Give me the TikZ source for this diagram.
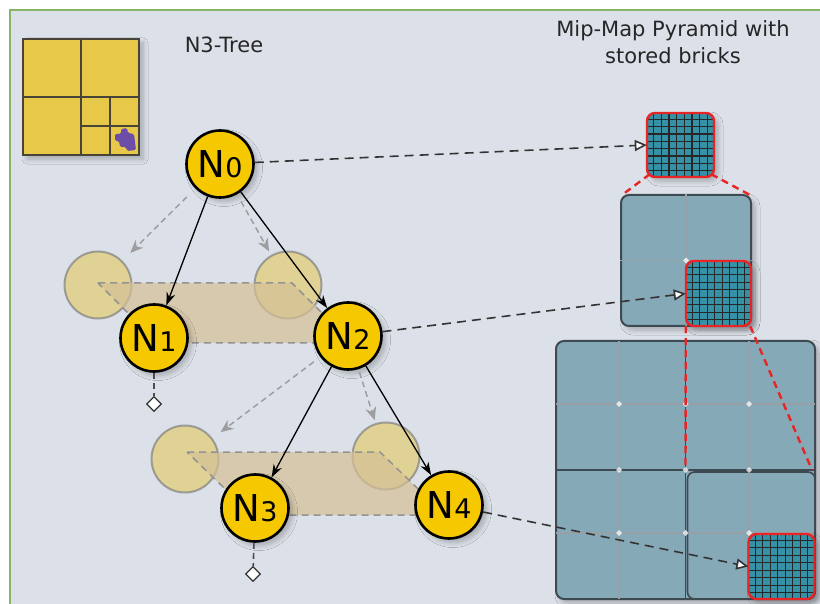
\documentclass[tikz,border=0pt]{standalone}
\usepackage{fontspec}
\setmainfont{DejaVu Sans}
\usetikzlibrary{arrows.meta,shapes.geometric,shadows.blur,calc}
\definecolor{bgc}{RGB}{220,225,233}
\definecolor{frameg}{RGB}{135,180,105}
\definecolor{qyel}{RGB}{232,200,72}
\definecolor{qdark}{RGB}{72,68,56}
\definecolor{qpur}{RGB}{108,78,168}
\definecolor{nyel}{RGB}{246,200,0}
\definecolor{ghostc}{RGB}{226,206,120}
\definecolor{bandc}{RGB}{214,192,150}
\definecolor{cellc}{RGB}{134,169,183}
\definecolor{celldark}{RGB}{62,74,82}
\definecolor{celllinec}{RGB}{150,160,166}
\definecolor{brickc}{RGB}{52,145,166}
\definecolor{brickred}{RGB}{232,36,36}
\definecolor{titlec}{RGB}{38,38,38}
\newcommand\nlabel[1]{{\fontsize{37}{37}\selectfont N}{\fontsize{27}{27}\selectfont #1}}
\newcommand\brickgrid[4]{%
  \begin{scope}
    \clip[rounded corners=8pt] ({#1-#3},{#2-#4}) rectangle ({#1+#3},{#2+#4});
    \foreach \k in {0,...,7}{%
      \draw[gridl] ({#1-#3+2*#3*(0.1+\k*0.11429)},{#2-#4}) -- ++(0,{2*#4});
      \draw[gridl] ({#1-#3},{#2-#4+2*#4*(0.1+\k*0.11429)}) -- ++({2*#3},0);
    }
  \end{scope}}
\newcommand\jmark[2]{\fill[white,opacity=0.75] ({#1-3},#2) -- (#1,{#2-3}) -- ({#1+3},#2) -- (#1,{#2+3}) -- cycle;}
\begin{document}
\begin{tikzpicture}[x=1pt,y=-1pt,
  softshadow/.style={blur shadow={shadow blur steps=8, shadow xshift=4pt, shadow yshift=-4pt, shadow opacity=25, shadow blur radius=5pt}},
  qbox/.style={rectangle, minimum size=116pt, inner sep=0pt, fill=qyel, draw=qdark, line width=2.5pt, softshadow},
  qline/.style={draw=qdark, line width=2pt},
  titlestyle/.style={font=\fontsize{21}{25}\selectfont, text=titlec, anchor=base, inner sep=0pt},
  tnode/.style={circle, draw=black, line width=2.6pt, fill=nyel, minimum size=67pt, inner sep=0pt, softshadow},
  ghost/.style={circle, draw=gray, draw opacity=0.7, line width=2pt, fill=ghostc, fill opacity=0.75, minimum size=67pt, inner sep=0pt},
  band/.style={fill=bandc, fill opacity=0.7, draw=gray!85, line width=1.5pt, dash pattern=on 7pt off 5pt},
  leaf/.style={diamond, draw=black!80, fill=white, line width=1.2pt, minimum size=15pt, inner sep=0pt},
  stem/.style={draw=black!70, line width=1.6pt, dash pattern=on 6pt off 4pt},
  tarrow/.style={draw=black, line width=1.3pt, -{Stealth[length=13pt,width=9pt]}},
  garrow/.style={draw=black!38, line width=1.5pt, dash pattern=on 6pt off 4pt, -{Stealth[length=13pt,width=11pt]}},
  darrow/.style={draw=black!80, line width=1.6pt, dash pattern=on 9pt off 6pt, -{Triangle[length=12pt,width=11pt,fill=white]}},
  reddash/.style={draw=brickred, line width=2.4pt, dash pattern=on 7pt off 5pt},
  cellblock/.style={rectangle, rounded corners=8pt, fill=cellc, draw=celldark, line width=2pt, inner sep=0pt, softshadow},
  cellline/.style={draw=celllinec, line width=1.3pt},
  brick/.style={rectangle, rounded corners=8pt, fill=brickc, inner sep=0pt, softshadow},
  brickedge/.style={rectangle, rounded corners=8pt, draw=brickred, line width=2.4pt, inner sep=0pt},
  gridl/.style={draw=black!85, line width=1.1pt}
]
\useasboundingbox (0,0) rectangle (820,604);
\fill[white] (0,0) rectangle (820,604);
\fill[bgc] (10,10) rectangle (821,605);
\draw[frameg, line width=2pt] (10,605) -- (10,10) -- (821,10);

% quadtree icon
\node[qbox] (qt) at (81,97) {};
\draw[qline] (qt.north) -- (qt.south) (qt.west) -- (qt.east);
\draw[qline] (110,97) -- (110,155) (81,126) -- (139,126);
\fill[qpur, rounded corners=1.5pt] (115,134) -- (121,134) -- (121,129) -- (127,128) -- (128,133) -- (134,134) -- (136,150) -- (127,151) -- (126,147) -- (120,147) -- (119,141) -- (115,141) -- cycle;

% titles
\node[titlestyle] (t0) at (224,53) {N3-Tree};
\node[titlestyle] (t1) at (673,37) {Mip-Map Pyramid with};
\node[titlestyle] (t2) at (673,64) {stored bricks};

% ghosts and bands
\node[ghost] (g1) at (98,285) {};
\node[ghost] (g2) at (288,285) {};
\draw[band] (98,283) -- (292,283) -- (352,343) -- (158,343) -- cycle;
\node[ghost] (g3) at (185,459) {};
\node[ghost] (g4) at (386,456) {};
\draw[band] (187,452) -- (380,452) -- (445,515) -- (252,515) -- cycle;

% tree nodes
\node[tnode] (n0) at (220,164) {\nlabel{0}};
\node[tnode] (n1) at (154,338) {\nlabel{1}};
\node[tnode] (n2) at (348,336) {\nlabel{2}};
\node[tnode] (n3) at (255,508) {\nlabel{3}};
\node[tnode] (n4) at (449,505) {\nlabel{4}};

% leaves
\node[leaf] (d1) at (154,404) {};
\node[leaf] (d3) at (253,574) {};
\draw[stem] (n1) -- (d1);
\draw[stem] (n3) -- (d3);

% tree arrows
\draw[garrow, shorten <=12pt, shorten >=11pt] (n0) -- (g1);
\draw[garrow, shorten <=8pt, shorten >=4pt] (n0) -- (g2);
\draw[tarrow] (n0) -- (n1);
\draw[tarrow] (n0) -- (n2);
\draw[garrow, shorten <=8pt, shorten >=10pt] (n2) -- (g3);
\draw[garrow, shorten <=3pt, shorten >=3pt] (n2) -- (g4);
\draw[tarrow] (n2) -- (n3);
\draw[tarrow] (n2) -- (n4);

% level 0
\node[brick, minimum width=67pt, minimum height=64pt] (b0) at (680.5,145) {};
\brickgrid{680.5}{145}{33.5}{32}
\node[brickedge, minimum width=67pt, minimum height=64pt] (b0e) at (b0) {};

% level 1
\node[cellblock, minimum width=130pt, minimum height=131pt] (L1) at (686,260.5) {};
\draw[cellline] (L1.north) -- (L1.south) (L1.west) -- (L1.east);
\jmark{686}{260.5}
\node[brick, minimum size=65pt] (b1) at (718.5,293.5) {};
\brickgrid{718.5}{293.5}{32.5}{32.5}
\node[brickedge, minimum size=65pt] (b1e) at (b1) {};

% level 2
\node[cellblock, minimum width=259pt, minimum height=258pt] (L2) at (685.5,470) {};
\draw[cellline] (619,341) -- (619,599) (749,341) -- (749,599) (556,404) -- (815,404) (556,533) -- (815,533);
\draw[celldark, line width=1.8pt] (L2.north) -- (L2.south) (L2.west) -- (L2.east);
\draw[celldark, line width=1.6pt, rounded corners=7pt] (687.5,472) rectangle (815,599);
\foreach \xx in {619,685.5,749}{\foreach \yy in {404,470,533}{\jmark{\xx}{\yy}}}
\node[brick, minimum width=66pt, minimum height=65pt] (b2) at (781.5,566.5) {};
\brickgrid{781.5}{566.5}{33}{32.5}
\node[brickedge, minimum width=66pt, minimum height=65pt] (b2e) at (b2) {};

% red dashed projections
\draw[reddash] ($(b0.south west)+(3,-3)$) -- ($(L1.north west)+(2,1)$);
\draw[reddash] ($(b0.south east)+(-3,-3)$) -- ($(L1.north east)+(-2,1)$);
\draw[reddash] (b1.south west) -- (L2.center);
\draw[reddash] ($(b1.south east)+(-1,0)$) -- ($(L2.east)+(-4,0)$);

% dashed links to bricks
\draw[darrow] (n0) -- (b0.west);
\draw[darrow] (n2) -- (b1.west);
\draw[darrow] (n4) -- (b2.west);
\end{tikzpicture}
\end{document}
